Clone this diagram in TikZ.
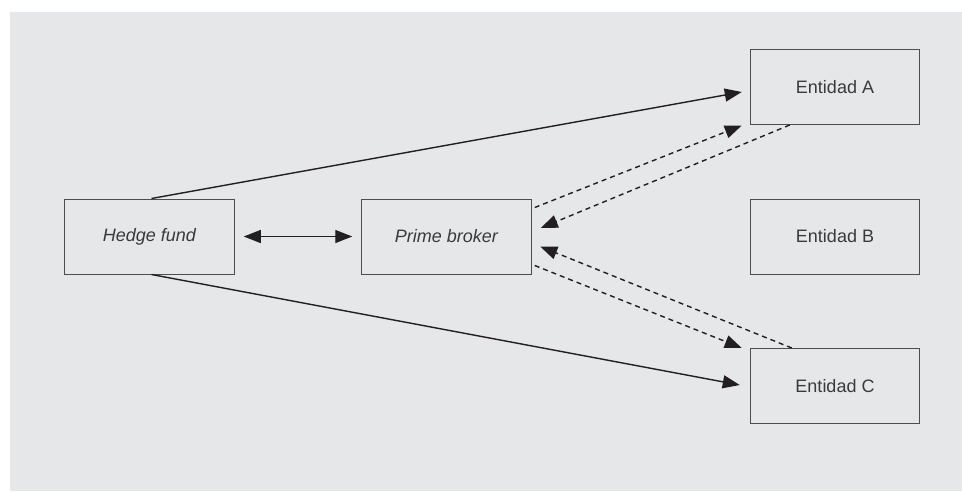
\documentclass[tikz,border=0pt]{standalone}
\usepackage{fontspec}
\setmainfont{Liberation Sans}
\usetikzlibrary{arrows.meta,calc}
\definecolor{bggray}{HTML}{E6E7E8}
\definecolor{boxline}{HTML}{4D4D4D}
\definecolor{arrowcol}{HTML}{231F20}
\definecolor{txtcol}{HTML}{3A3A3A}
\begin{document}
\begin{tikzpicture}[x=1pt,y=-1pt,
  entbox/.style={draw=boxline,line width=1pt,minimum width=169.5pt,minimum height=75pt,inner sep=0pt,
    font=\fontsize{18}{21}\selectfont,text=txtcol},
  conn/.style={draw=arrowcol,line width=1.4pt,-{Triangle[length=17pt,width=13pt]}},
  dconn/.style={conn,dash pattern=on 5pt off 4pt}
]
\useasboundingbox (0,0) rectangle (962,491);
\fill[bggray] (10,12) rectangle (962,491);
\node[entbox] (hf) at (149.5,236.5) {\itshape Hedge fund};
\node[entbox] (pb) at (446.5,236.5) {\itshape Prime broker};
\node[entbox] (A) at (835,87) {Entidad A};
\node[entbox] (B) at (835,236.5) {Entidad B};
\node[entbox] (C) at (835,386) {Entidad C};
\draw[conn] ($(hf.north)+(2,0)$) -- ($(A.west)+(-8,5)$);
\draw[conn] ($(hf.south)+(2,0)$) -- ($(C.west)+(-10,-1)$);
\draw[conn,{Triangle[length=17pt,width=13pt]}-{Triangle[length=17pt,width=13pt]}] ($(hf.east)+(9,0)$) -- ($(pb.west)+(-9,0)$);
\draw[dconn] ($(pb.north east)+(3,9)$) -- ($(A.south west)+(-8,0.5)$);
\draw[dconn] ($(A.south west)+(40,0)$) -- ($(pb.east)+(9,-8.5)$);
\draw[dconn] ($(pb.south east)+(3,-9)$) -- ($(C.north west)+(-8,0)$);
\draw[dconn] ($(C.north west)+(42,0)$) -- ($(pb.east)+(8.5,10)$);
\end{tikzpicture}
\end{document}
